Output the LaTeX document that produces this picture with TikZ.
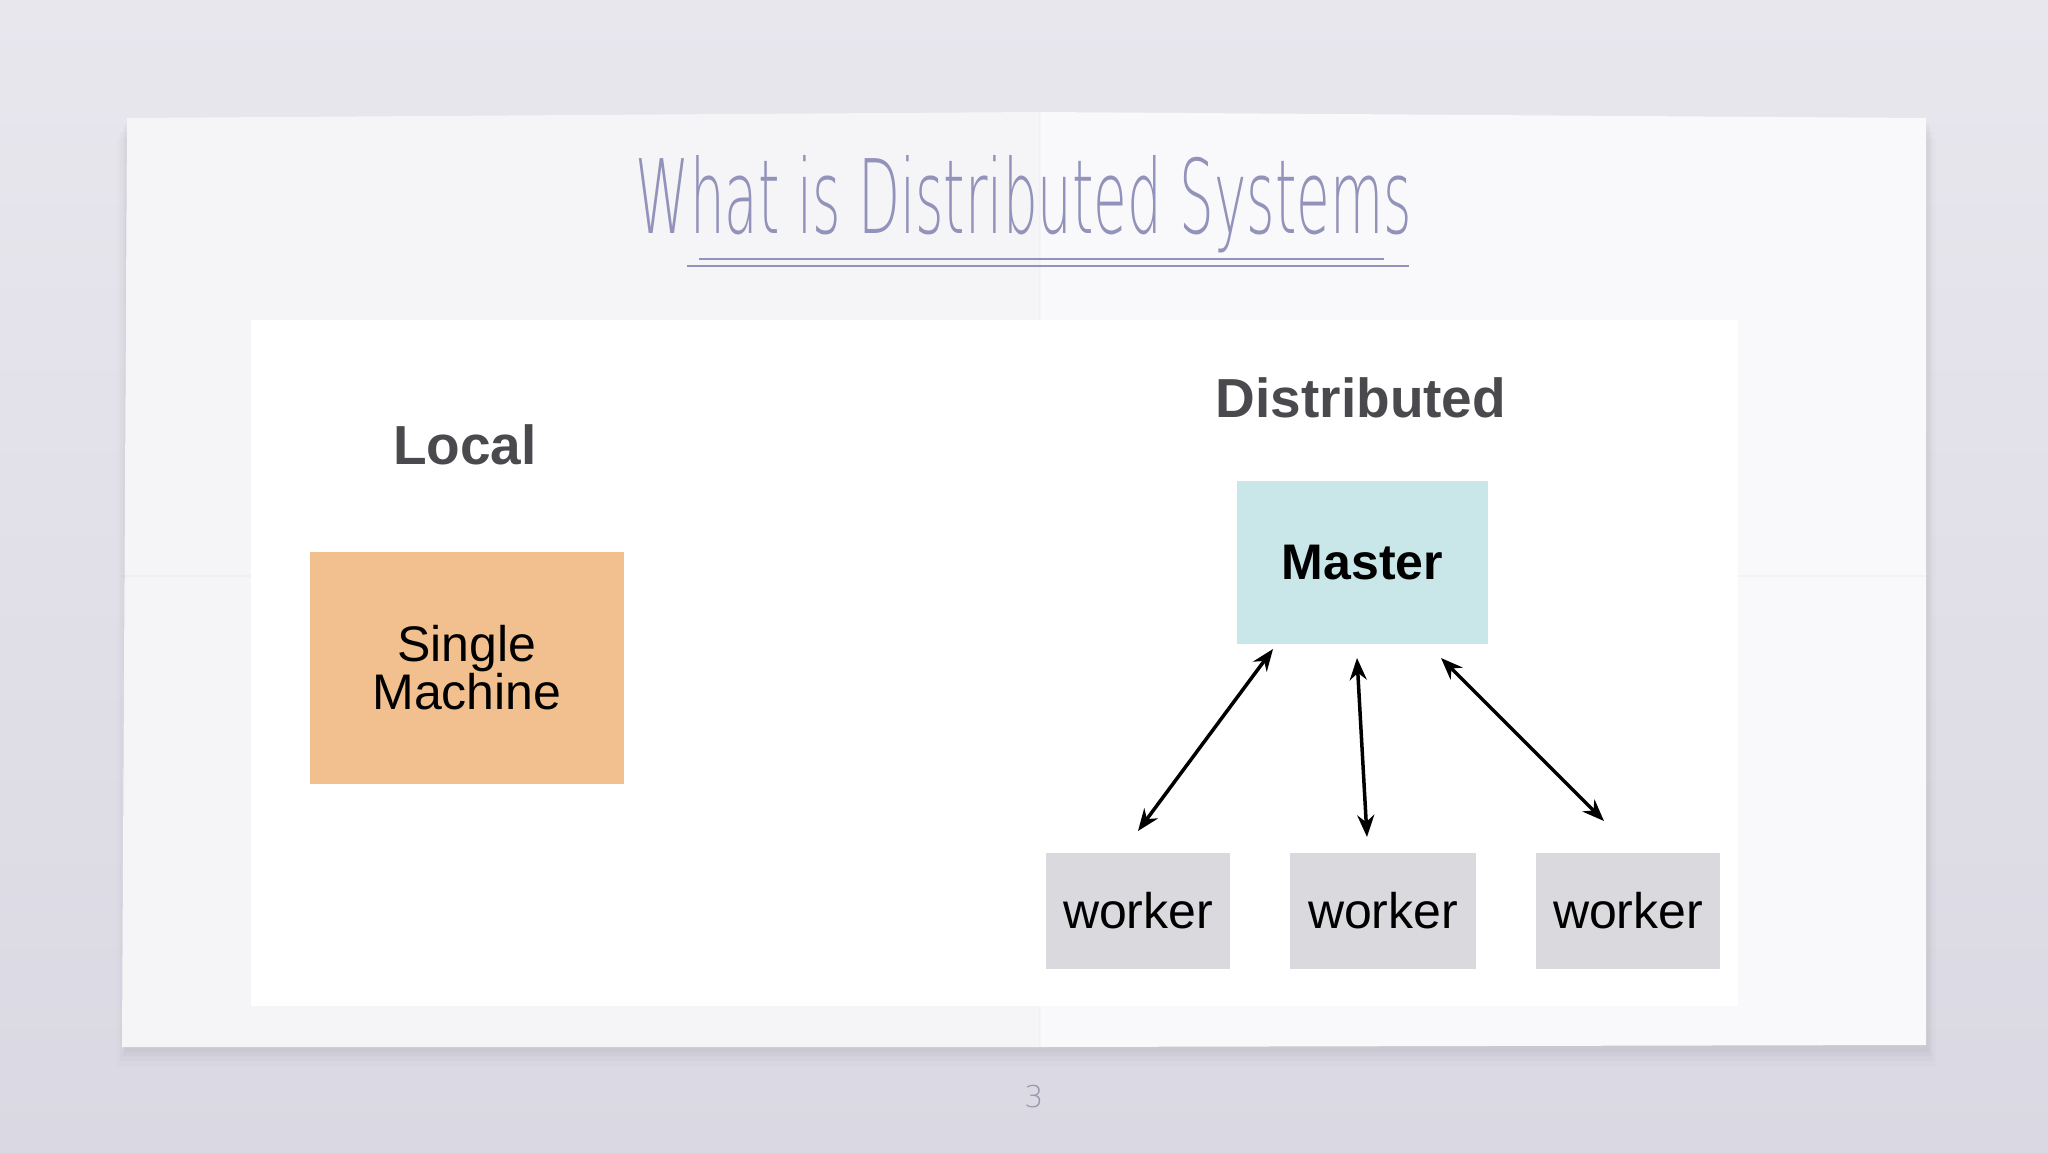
\documentclass[tikz,border=0pt]{standalone}
\usepackage{fontspec}
\setmainfont{Liberation Sans}
\newfontfamily\titlefont{DejaVu Sans ExtraLight}
\usetikzlibrary{arrows.meta}
\definecolor{bgtop}{RGB}{232,231,238}
\definecolor{bgbot}{RGB}{218,216,226}
\definecolor{paperL}{RGB}{245,245,248}
\definecolor{paperR}{RGB}{249,249,251}
\definecolor{peach}{RGB}{242,192,143}
\definecolor{mastercol}{RGB}{201,231,233}
\definecolor{workercol}{RGB}{218,217,221}
\definecolor{titlecol}{RGB}{146,146,186}
\definecolor{labelcol}{RGB}{74,74,78}
\definecolor{pgcol}{RGB}{150,150,168}
\tikzset{
  box/.style={inner sep=0pt, align=center, text=black, font=\fontsize{50}{48}\selectfont},
  workerbox/.style={box, fill=workercol, minimum width=184pt, minimum height=116pt},
  heading/.style={inner sep=0pt, text=labelcol, font=\fontsize{55}{60}\selectfont\bfseries},
  biarrow/.style={line width=3.5pt, black, {Stealth[length=22pt,width=17pt]}-{Stealth[length=22pt,width=17pt]}}
}
\begin{document}
\begin{tikzpicture}[x=1pt,y=-1pt]
\useasboundingbox (0,0) rectangle (2048,1152);
\shade[top color=bgtop, bottom color=bgbot] (0,0) rectangle (2048,1152);
% paper shadow (soft, mostly below)
\foreach \d/\o in {20/0.012,14/0.015,9/0.02,5/0.025}{
  \fill[black, opacity=\o] (127-\d/2,118+\d) rectangle (1926+\d/2,1047+\d);
}
% paper
\fill[paperL] (127,118) -- (1040,112) -- (1040,1047) -- (122,1047) -- cycle;
\fill[paperR] (1040,112) -- (1926,118) -- (1926,1045) -- (1040,1047) -- cycle;
\draw[black, opacity=0.025, line width=2pt] (122,576) -- (1926,576);
\draw[black, opacity=0.02, line width=2pt] (1040,112) -- (1040,1047);
% inner white picture
\fill[white] (251,320) rectangle (1738,1006);
% title
\node[anchor=base, inner sep=0pt, text=titlecol] (title) at (1024,233)
  {\resizebox{776pt}{78pt}{\titlefont What is Distributed Systems}};
\coordinate (u1a) at (699,259);
\coordinate (u1b) at (1384,259);
\coordinate (u2a) at (687,266);
\coordinate (u2b) at (1409,266);
\draw[titlecol, line width=2pt] (u1a) -- (u1b);
\draw[titlecol, line width=2pt] (u2a) -- (u2b);
% headings
\node[heading] (local) at (465,445) {Local};
\node[heading] (dist) at (1361,398) {Distributed};
% boxes
\node[box, fill=peach, minimum width=314pt, minimum height=232pt] (single) at (467,668) {Single\\Machine};
\node[box, fill=mastercol, minimum width=251pt, minimum height=163pt, font=\fontsize{50}{48}\selectfont\bfseries] (master) at (1362.5,562.5) {Master};
\node[workerbox] (w1) at (1138,911) {worker};
\node[workerbox, minimum width=186pt] (w2) at (1383,911) {worker};
\node[workerbox] (w3) at (1628,911) {worker};
% arrow ends
\coordinate (m1) at (1273,649);
\coordinate (m2) at (1357,658);
\coordinate (m3) at (1441,658);
\coordinate (t1) at (1138,831);
\coordinate (t2) at (1367,837);
\coordinate (t3) at (1604,821);
\draw[biarrow] (m1) -- (t1);
\draw[biarrow] (m2) -- (t2);
\draw[biarrow] (m3) -- (t3);
% page number
\node[inner sep=0pt, text=pgcol, font=\titlefont\fontsize{30}{30}\selectfont] (pg) at (1034,1097) {3};
\end{tikzpicture}
\end{document}
